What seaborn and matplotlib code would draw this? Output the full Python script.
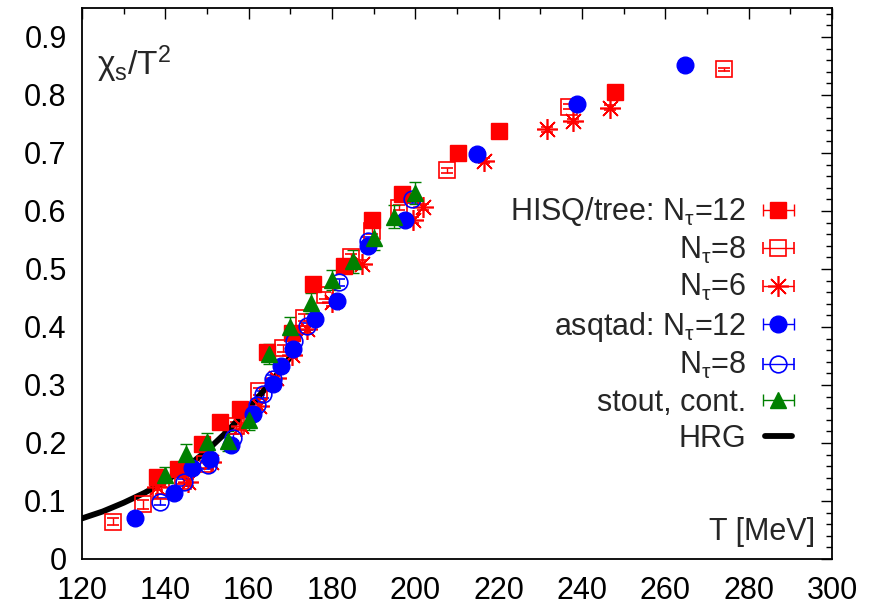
import numpy as np
import matplotlib
matplotlib.use("Agg")
import matplotlib.pyplot as plt
import seaborn as sns
from matplotlib.ticker import MultipleLocator
from matplotlib.lines import Line2D

# ---------------- data ----------------
hisq12_T = [137.9, 143.1, 148.7, 153.2, 158.0, 164.3, 170.3, 175.5, 182.8, 189.5, 196.7, 210.3, 220.2, 247.8]
hisq12_v = [0.142, 0.156, 0.199, 0.236, 0.258, 0.357, 0.389, 0.475, 0.505, 0.584, 0.630, 0.700, 0.738, 0.806]
hisq12_e = [0.006, 0.006, 0.006, 0.006, 0.006, 0.006, 0.006, 0.006, 0.006, 0.006, 0.006, 0.005, 0.005, 0.005]

hisq8_T = [127.5, 134.7, 139.0, 144.3, 149.6, 157.0, 162.5, 168.3, 173.2, 178.4, 184.5, 189.7, 196.0, 207.6, 237.0, 274.2]
hisq8_v = [0.064, 0.094, 0.118, 0.135, 0.163, 0.230, 0.289, 0.363, 0.416, 0.455, 0.520, 0.565, 0.606, 0.670, 0.780, 0.844]
hisq8_e = [0.006, 0.007, 0.006, 0.006, 0.006, 0.006, 0.006, 0.006, 0.006, 0.006, 0.006, 0.005, 0.005, 0.004, 0.004, 0.002]

hisq6_T = [138.0, 145.5, 151.0, 158.2, 162.5, 166.5, 170.5, 174.0, 180.0, 187.3, 199.4, 201.8, 216.5, 231.5, 237.8, 246.8]
hisq6_v = [0.125, 0.132, 0.168, 0.229, 0.263, 0.312, 0.352, 0.396, 0.443, 0.509, 0.584, 0.607, 0.687, 0.741, 0.755, 0.778]
hisq6_e = [0.006, 0.006, 0.006, 0.006, 0.006, 0.006, 0.006, 0.006, 0.006, 0.006, 0.005, 0.005, 0.004, 0.004, 0.004, 0.004]

asq12_T = [132.8, 142.0, 146.3, 150.8, 155.8, 161.1, 165.9, 167.7, 170.7, 175.9, 181.2, 188.7, 197.6, 214.7, 238.9, 264.7]
asq12_v = [0.070, 0.113, 0.157, 0.172, 0.197, 0.250, 0.302, 0.332, 0.362, 0.414, 0.444, 0.540, 0.585, 0.698, 0.785, 0.851]
asq12_e = [0.006, 0.006, 0.006, 0.006, 0.006, 0.006, 0.006, 0.006, 0.006, 0.006, 0.006, 0.006, 0.006, 0.005, 0.005, 0.005]

asq8_T = [138.8, 144.5, 150.2, 156.3, 162.0, 163.5, 165.8, 171.0, 173.9, 181.6, 188.6, 199.3]
asq8_v = [0.099, 0.132, 0.162, 0.209, 0.265, 0.284, 0.311, 0.376, 0.401, 0.477, 0.549, 0.620]
asq8_e = [0.006, 0.006, 0.006, 0.006, 0.006, 0.006, 0.006, 0.006, 0.006, 0.006, 0.006, 0.006]

stout_T = [140, 145, 150, 155, 160, 165, 170, 175, 180, 185, 190, 195, 200]
stout_v = [0.145, 0.181, 0.202, 0.203, 0.240, 0.353, 0.400, 0.441, 0.481, 0.513, 0.553, 0.590, 0.631]
stout_e = [0.013, 0.017, 0.015, 0.017, 0.017, 0.017, 0.018, 0.017, 0.018, 0.020, 0.020, 0.020, 0.019]

hrg_T = [120, 125, 130, 135, 140, 145, 150, 155, 160, 165, 170]
hrg_v = [0.070, 0.082, 0.097, 0.114, 0.134, 0.158, 0.187, 0.221, 0.260, 0.302, 0.348]

labels = ["HISQ/tree: N$_\\tau$=12", "N$_\\tau$=8", "N$_\\tau$=6",
          "asqtad: N$_\\tau$=12", "N$_\\tau$=8", "stout, cont.", "HRG"]

x_ticks = [120, 140, 160, 180, 200, 220, 240, 260, 280, 300]
y_ticks = [0, 0.1, 0.2, 0.3, 0.4, 0.5, 0.6, 0.7, 0.8, 0.9]

# ---------------- style ----------------
sns.set_theme(style="white")
plt.rcParams['font.family'] = ['Liberation Sans', 'DejaVu Sans']
plt.rcParams['mathtext.fontset'] = 'custom'
plt.rcParams['mathtext.rm'] = 'Liberation Sans'
plt.rcParams['mathtext.it'] = 'Liberation Sans'
plt.rcParams['mathtext.default'] = 'regular'

RED = '#ff0000'
BLUE = '#0000ff'
GREEN = '#008000'
FS = 22

fig = plt.figure(figsize=(8.78, 6.06), dpi=100)
ax = fig.add_axes([82 / 878, 1 - 559 / 606, 750 / 878, 551 / 606])

styles = [
    dict(marker='s', ms=11, mfc=RED, mec=RED, color=RED),
    dict(marker='s', ms=11, mfc='none', mec=RED, color=RED, mew=1.2),
    dict(marker=(8, 2, 0), ms=15, mfc=RED, mec=RED, color=RED, mew=1.2),
    dict(marker='o', ms=12, mfc=BLUE, mec=BLUE, color=BLUE),
    dict(marker='o', ms=12, mfc='none', mec=BLUE, color=BLUE, mew=1.2),
    dict(marker='^', ms=11, mfc=GREEN, mec=GREEN, color=GREEN),
]
series = [(hisq12_T, hisq12_v, hisq12_e), (hisq8_T, hisq8_v, hisq8_e),
          (hisq6_T, hisq6_v, hisq6_e), (asq12_T, asq12_v, asq12_e),
          (asq8_T, asq8_v, asq8_e), (stout_T, stout_v, stout_e)]

for (T, v, e), st in zip(series, styles):
    ax.errorbar(T, v, yerr=e, linestyle='none', capsize=4, elinewidth=1.0,
                capthick=1.0, **st)

sns.lineplot(x=hrg_T, y=hrg_v, color='black', lw=4.2, ax=ax, legend=False)

# legend proxies (gnuplot-style horizontal error bar sample)
handles = []
for st in styles:
    h = ax.errorbar([np.nan], [np.nan], xerr=[1.0], linestyle='none', capsize=4,
                    elinewidth=1.0, capthick=1.0, **st)
    handles.append(h)
handles.append(Line2D([], [], color='black', lw=4.2))

leg = ax.legend(handles, labels, loc='upper right', bbox_to_anchor=(0.947, 0.66),
                markerfirst=False, frameon=False, fontsize=FS, handlelength=0.9,
                handletextpad=0.6, labelspacing=0.21, borderpad=0, borderaxespad=0)

ax.set_xlim(120, 300)
ax.set_ylim(0, 0.95)
ax.set_xticks(x_ticks)
ax.set_yticks(y_ticks)
ax.set_xticklabels([str(t) for t in x_ticks])
ax.set_yticklabels(['0' if t == 0 else f'{t:.1f}' for t in y_ticks])
ax.xaxis.set_minor_locator(MultipleLocator(10))
ax.yaxis.set_minor_locator(MultipleLocator(0.02))
ax.tick_params(which='both', direction='in', top=True, right=True, colors='black')
ax.tick_params(which='major', length=8, width=1.0, labelsize=FS)
ax.tick_params(axis='x', which='major', pad=12)
ax.tick_params(axis='y', which='major', pad=11)
ax.tick_params(which='minor', length=4, width=1.0)
for s in ax.spines.values():
    s.set_color('black')
    s.set_linewidth(1.3)

ax.text(0.02, 0.935, "$\\chi_s$/T$^2$", transform=ax.transAxes, fontsize=24,
        ha='left', va='top')
ax.text(0.977, 0.022, "T [MeV]", transform=ax.transAxes, fontsize=FS,
        ha='right', va='bottom')

fig.savefig("out.png", dpi=100)
